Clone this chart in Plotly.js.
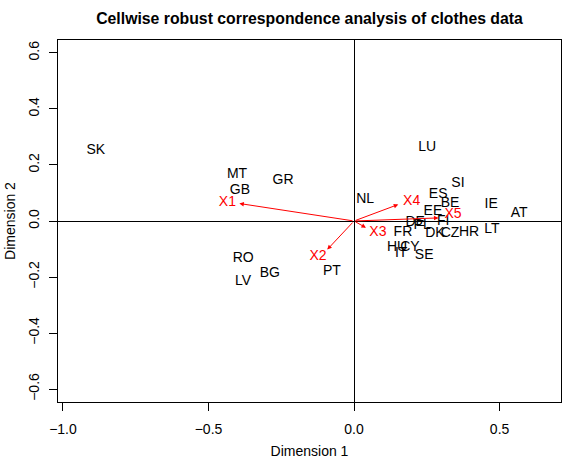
<!DOCTYPE html>
<html>
<head>
<meta charset="utf-8">
<script src="https://cdn.plot.ly/plotly-3.0.1.min.js"></script>
<style>
  body { margin: 0; background: #fff; }
  #plot { width: 582px; height: 462px; }
</style>
</head>
<body>
<div id="plot"></div>
<script>
// countries (row points)
var countries = ["SK", "MT", "GB", "GR", "NL", "LU", "SI", "ES", "BE", "IE", "AT", "EE", "FI", "DE", "PL",
                 "FR", "DK", "CZ", "HR", "LT", "HU", "CY", "IT", "SE", "RO", "BG", "LV", "PT"];
var dim1 = [-0.887, -0.402, -0.392, -0.244, 0.038, 0.251, 0.357, 0.289, 0.330, 0.471, 0.567, 0.271, 0.306, 0.210, 0.234,
            0.168, 0.278, 0.330, 0.395, 0.474, 0.148, 0.192, 0.162, 0.241, -0.381, -0.289, -0.381, -0.076];
var dim2 = [0.252, 0.166, 0.109, 0.145, 0.077, 0.263, 0.134, 0.095, 0.063, 0.059, 0.027, 0.034, -0.002, -0.005, -0.016,
            -0.041, -0.045, -0.045, -0.041, -0.030, -0.095, -0.095, -0.116, -0.123, -0.134, -0.188, -0.216, -0.180];

// variables (column arrows)
var vars = ["X1", "X2", "X3", "X4", "X5"];
var varLabX = [-0.435, -0.124, 0.082, 0.198, 0.340];
var varLabY = [0.065, -0.126, -0.041, 0.071, 0.023];
var arrowX = [-0.394, -0.092, 0.041, 0.152, 0.290];
var arrowY = [0.0625, -0.102, -0.024, 0.059, 0.011];

var xTicks = [-1.0, -0.5, 0.0, 0.5];
var yTicks = [-0.6, -0.4, -0.2, 0.0, 0.2, 0.4, 0.6];

var fnt = "Liberation Sans, Arial, sans-serif";

var rows = {
  x: dim1, y: dim2, text: countries,
  mode: "text", type: "scatter",
  textposition: "middle center",
  textfont: {family: fnt, size: 14, color: "black"},
  hoverinfo: "text"
};

var cols = {
  x: varLabX, y: varLabY, text: vars,
  mode: "text", type: "scatter",
  textposition: "middle center",
  textfont: {family: fnt, size: 14, color: "red"},
  hoverinfo: "text"
};

var arrows = [];
for (var i = 0; i < vars.length; i++) {
  arrows.push({
    x: arrowX[i], y: arrowY[i], ax: 0, ay: 0,
    xref: "x", yref: "y", axref: "x", ayref: "y",
    text: "", showarrow: true,
    arrowhead: 2, arrowsize: 0.9, arrowwidth: 1, arrowcolor: "red",
    standoff: 0, startstandoff: 0
  });
}

var axisBase = {
  showgrid: false,
  showline: true, mirror: true, linecolor: "black", linewidth: 1,
  ticks: "outside", ticklen: 8, tickcolor: "black", tickwidth: 1,
  zeroline: true, zerolinecolor: "black", zerolinewidth: 1,
  tickformat: ".1f",
  tickfont: {family: fnt, size: 14, color: "black"}
};

var layout = {
  width: 582, height: 462,
  margin: {l: 58, r: 21, t: 40, b: 60},
  paper_bgcolor: "white", plot_bgcolor: "white",
  showlegend: false,
  title: {
    text: "<b>Cellwise robust correspondence analysis of clothes data</b>",
    font: {family: fnt, size: 15.8, color: "black"},
    x: 0.5, xref: "paper", y: 0.961, yref: "container", yanchor: "middle"
  },
  xaxis: Object.assign({}, axisBase, {
    range: [-1.017, 0.711],
    tickvals: xTicks,
    ticklabelstandoff: 6,
    title: {text: "Dimension 1", font: {family: fnt, size: 14, color: "black"}, standoff: 10}
  }),
  yaxis: Object.assign({}, axisBase, {
    range: [-0.646, 0.646],
    tickvals: yTicks,
    tickangle: -90,
    ticklabelstandoff: 4,
    title: {text: "Dimension 2", font: {family: fnt, size: 14, color: "black"}, standoff: 7}
  }),
  annotations: arrows
};

Plotly.newPlot("plot", [rows, cols], layout, {displayModeBar: false, staticPlot: true});
</script>
</body>
</html>
